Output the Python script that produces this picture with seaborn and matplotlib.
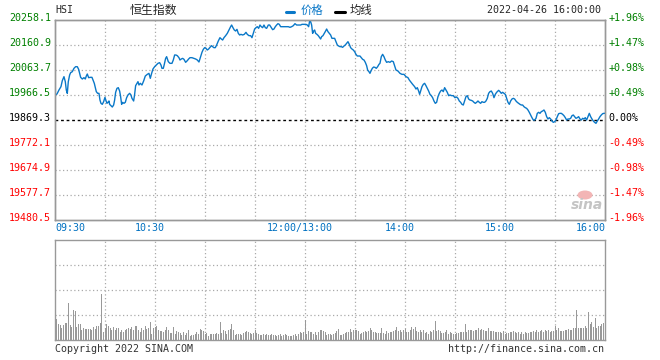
import matplotlib
matplotlib.use('Agg')
import matplotlib.pyplot as plt
import seaborn as sns
from matplotlib.transforms import ScaledTranslation, blended_transform_factory
from matplotlib.lines import Line2D
from matplotlib.patches import Ellipse

# trading minutes since 09:30 (lunch break removed) and HSI price
minutes = [
    0, 1.0, 2.2, 3.4, 4.2, 5.2, 6.0, 6.6, 7.2, 7.8,
    8.6, 9.2, 10.2, 11.2, 12.2, 13.2, 14.0, 14.6, 15.2, 16.2,
    17.2, 18.0, 18.6, 19.2, 20.0, 21.0, 22.0, 22.6, 23.4, 24.0,
    24.6, 25.4, 26.2, 26.8, 27.4, 28.2, 29.0, 29.8, 30.4, 31.0,
    31.6, 32.2, 32.6, 33.4, 34.2, 35.0, 35.6, 36.2, 37.0, 37.8,
    38.6, 39.2, 39.8, 40.4, 41.2, 42.0, 42.8, 43.6, 44.6, 45.4,
    46.0, 47.0, 47.6, 48.2, 49.0, 49.6, 50.2, 51.0, 52.0, 53.0,
    54.0, 55.2, 56.2, 57.0, 57.8, 58.6, 59.6, 60.6, 61.6, 62.6,
    63.4, 64.0,
    64.8, 65.4, 66.2, 66.8, 67.8, 68.8, 70.0, 70.8, 71.6, 72.4,
    73.2, 74.2, 74.8, 75.6, 76.4, 77.2, 78.2, 79.2, 80.0, 80.8,
    82.0, 83.2, 84.2, 85.2, 86.2, 87.2, 88.0, 88.8, 89.6, 90.4,
    91.2, 92.0, 92.8, 93.8, 94.4, 95.2, 96.0, 96.8, 97.8, 98.8,
    99.6, 100.4, 101.2, 102.2, 103.2, 104.2, 105.2, 105.8, 106.6, 107.4,
    108.2, 109.0, 109.8, 110.6, 111.4, 112.4, 113.4, 114.4, 115.2, 116.2,
    117.2, 118.0, 118.8, 119.6, 120.4, 121.2, 122.0, 122.8, 123.6, 124.4,
    125.2, 126.0, 126.8, 127.8, 128.6,
    129.6, 130.4, 131.2, 132.0, 132.8, 133.6, 134.4, 135.2, 136.0, 137.2,
    138.4, 139.8, 140.8, 141.8, 142.8, 143.8, 144.8, 146.0, 147.2, 148.0,
    149.2, 150.4, 151.2, 152.0, 152.6, 153.2, 153.8, 154.4, 155.0, 155.6,
    156.2, 157.0, 157.8, 158.6, 159.2, 159.8, 160.6, 161.4, 162.2, 162.8,
    163.6, 164.4, 165.2, 166.0, 166.8, 167.6, 168.4, 169.2, 170.0, 170.8,
    171.6, 172.4, 173.2, 174.0, 174.8, 175.6, 176.4, 177.2, 178.0, 178.8,
    179.6, 180.4, 181.2, 182.0, 182.8, 183.6, 184.4, 185.2, 186.0, 186.8,
    187.4, 188.2, 188.8, 189.4, 190.2, 191.0, 191.8, 192.6, 193.4, 194.2,
    194.8,
    195.6, 196.4, 197.2, 198.0, 198.8, 199.8, 200.8, 201.8, 202.8, 203.6,
    204.4, 205.6, 206.8, 208.0, 209.2, 210.4, 211.6, 212.4, 213.6, 214.4,
    215.6, 216.4, 217.2, 218.0, 218.6, 219.2, 220.0, 220.8, 221.6, 222.4,
    223.2, 224.0, 224.8, 225.6, 226.4, 227.2, 228.0, 228.8, 229.6, 230.4,
    231.2, 232.0, 232.8, 233.6, 234.4, 235.2, 236.0, 236.8, 237.8, 238.8,
    239.8, 240.8, 241.6, 242.4, 243.2, 244.0, 244.8, 245.6, 246.4, 247.2,
    248.0, 248.8, 249.6, 250.4, 251.2, 252.0, 252.8, 253.6, 254.4, 255.2,
    256.0, 256.8, 257.6, 258.4, 259.2, 260.0, 260.8,
    261.6, 262.4, 263.2, 264.0, 264.8, 266.0, 266.8, 267.6, 268.4, 269.2,
    270.0, 270.8, 271.6, 272.4, 273.2, 274.0, 274.8, 275.6, 276.4, 277.2,
    278.0, 278.8, 279.6, 280.4, 281.2, 282.0, 282.8, 283.6, 284.4, 285.2,
    286.0, 286.8, 287.6, 288.4, 289.2, 290.0, 290.8, 291.6, 292.4, 293.2,
    294.0, 294.8, 295.6, 296.4, 297.2, 298.0, 298.8, 299.6, 300.4, 301.2,
    302.0, 302.8, 303.6, 304.4, 305.2, 306.0, 306.8, 307.6, 308.4, 309.2,
    310.0, 310.8, 311.6, 312.4, 313.2, 314.0, 314.8, 315.6, 316.4, 317.2,
    318.0, 318.8, 319.6, 320.4, 321.2, 322.0, 322.8, 323.6, 324.4, 325.2,
    326.0, 326.8, 327.6, 328.4, 329.2, 330.0,
]
price = [
    19966.5, 19970.4, 19985.9, 19998.9, 20022.2, 20037.8, 20018.3, 19985.9, 19973.0, 20018.3,
    20044.2, 20053.3, 20057.2, 20070.2, 20076.6, 20076.6, 20066.3, 20050.7, 20035.2, 20028.7,
    20033.9, 20028.7, 20040.3, 20048.1, 20033.9, 20035.2, 20035.2, 20024.8, 20011.9, 19995.0,
    19979.5, 19973.0, 19973.0, 19947.0, 19934.1, 19930.2, 19940.6, 19957.4, 19944.5, 19934.1,
    19938.0, 19943.2, 19930.2, 19925.0, 19919.8, 19927.6, 19947.0, 19976.9, 19992.4, 19995.0,
    19982.0, 19960.0, 19930.2, 19938.0, 19934.1, 19938.0, 19956.1, 19966.5, 19973.0, 19966.5,
    19953.5, 19943.2, 19969.1, 20002.8, 20011.9, 20018.3, 20005.4, 20011.9, 20005.4, 20021.0,
    20040.3, 20046.8, 20050.7, 20031.3, 20050.7, 20067.6, 20076.6, 20083.1, 20089.6, 20092.2,
    20083.1, 20070.2,
    20070.2, 20085.7, 20109.0, 20115.5, 20096.1, 20089.6, 20089.6, 20102.6, 20122.0, 20122.0,
    20119.4, 20111.6, 20102.6, 20106.5, 20109.0, 20105.2, 20093.5, 20100.0, 20106.5, 20111.6,
    20111.6, 20109.0, 20106.5, 20102.6, 20094.8, 20115.5, 20132.4, 20144.0, 20150.5, 20147.9,
    20141.4, 20145.3, 20151.8, 20158.3, 20154.4, 20150.5, 20150.5, 20160.9, 20176.4, 20189.4,
    20184.2, 20180.3, 20189.4, 20197.2, 20206.2, 20219.2, 20232.1, 20238.6, 20228.3, 20219.2,
    20215.3, 20221.8, 20206.2, 20199.8, 20202.3, 20199.8, 20202.3, 20210.1, 20202.3, 20197.2,
    20197.2, 20189.4, 20206.2, 20223.1, 20228.3, 20232.1, 20225.7, 20238.6, 20232.1, 20228.3,
    20238.6, 20228.3, 20225.7, 20238.6, 20238.6,
    20228.3, 20220.5, 20223.1, 20232.1, 20238.6, 20243.8, 20241.2, 20232.1, 20232.1, 20232.1,
    20232.1, 20232.1, 20229.6, 20232.1, 20236.0, 20243.8, 20238.6, 20238.6, 20238.6, 20241.2,
    20241.2, 20241.2, 20238.6, 20232.1, 20254.2, 20251.6, 20238.6, 20206.2, 20215.3, 20219.2,
    20206.2, 20202.3, 20197.2, 20189.4, 20184.2, 20193.3, 20197.2, 20206.2, 20215.3, 20223.1,
    20212.7, 20206.2, 20199.8, 20186.8, 20186.8, 20186.8, 20173.8, 20160.9, 20157.0, 20154.4,
    20154.4, 20151.8, 20157.0, 20160.9, 20167.4, 20173.8, 20163.5, 20150.5, 20145.3, 20141.4,
    20135.0, 20124.6, 20118.1, 20118.1, 20118.1, 20111.6, 20105.2, 20102.6, 20093.5, 20080.5,
    20063.7, 20057.2, 20050.7, 20059.8, 20070.2, 20075.3, 20074.0, 20070.2, 20076.6, 20085.7,
    20089.6,
    20115.5, 20124.6, 20115.5, 20102.6, 20093.5, 20096.1, 20093.5, 20098.7, 20096.1, 20080.5,
    20063.7, 20059.8, 20050.7, 20046.8, 20046.8, 20037.8, 20033.9, 20024.8, 20014.4, 20008.0,
    19998.9, 19989.8, 19995.0, 19982.0, 19969.1, 19982.0, 19998.9, 20008.0, 20011.9, 20002.8,
    19992.4, 19982.0, 19969.1, 19963.9, 19956.1, 19943.2, 19934.1, 19938.0, 19960.0, 19973.0,
    19982.0, 19985.9, 19979.5, 19995.0, 19985.9, 19976.9, 19963.9, 19966.5, 19963.9, 19963.9,
    19956.1, 19958.7, 19953.5, 19943.2, 19938.0, 19930.2, 19927.6, 19943.2, 19960.0, 19963.9,
    19950.9, 19947.0, 19945.7, 19943.2, 19938.0, 19934.1, 19938.0, 19943.2, 19938.0, 19934.1,
    19940.6, 19938.0, 19938.0, 19943.2, 19953.5, 19973.0, 19979.5,
    19982.0, 19973.0, 19956.1, 19969.1, 19976.9, 19984.6, 19979.5, 19973.0, 19976.9, 19973.0,
    19969.1, 19953.5, 19938.0, 19930.2, 19943.2, 19950.9, 19953.5, 19950.9, 19943.2, 19938.0,
    19934.1, 19930.2, 19927.6, 19927.6, 19921.1, 19917.2, 19914.6, 19908.2, 19899.1, 19888.7,
    19878.4, 19869.3, 19869.3, 19875.8, 19895.2, 19899.1, 19895.2, 19901.7, 19904.3, 19908.2,
    19899.1, 19882.3, 19873.2, 19878.4, 19873.2, 19865.4, 19860.2, 19862.8, 19869.3, 19882.3,
    19893.9, 19895.2, 19895.2, 19891.3, 19886.1, 19878.4, 19869.3, 19873.2, 19873.2, 19875.8,
    19886.1, 19888.7, 19882.3, 19875.8, 19878.4, 19882.3, 19873.2, 19869.3, 19875.8, 19873.2,
    19878.4, 19869.3, 19882.3, 19895.2, 19882.3, 19873.2, 19865.4, 19860.2, 19856.3, 19865.4,
    19873.2, 19882.3, 19888.7, 19893.9, 19895.2, 19895.2,
]

# per-minute volume (relative units, panel top = 100)
volume = [
    21, 16, 15, 12, 15, 17, 17, 37, 15, 13, 30, 29, 13, 16, 16, 10, 12, 11, 11, 11,
    11, 10, 13, 11, 14, 14, 17, 46, 8, 12, 16, 14, 12, 10, 13, 10, 12, 12, 8, 10,
    8, 10, 11, 12, 11, 13, 10, 14, 14, 10, 8, 12, 10, 14, 11, 12, 18, 6, 12, 13,
    14, 10, 9, 9, 8, 10, 13, 10, 7, 7, 13, 6, 9, 8, 7, 5, 8, 5, 7, 10,
    4, 5, 5, 6, 8, 6, 11, 10, 9, 6, 7, 4, 6, 6, 6, 6, 7, 6, 18, 7,
    10, 9, 6, 10, 11, 16, 10, 5, 6, 6, 6, 5, 7, 8, 9, 8, 7, 6, 7, 10,
    7, 6, 5, 5, 6, 5, 6, 5, 5, 6, 5, 5, 4, 5, 6, 4, 5, 6, 5, 4,
    4, 4, 5, 6, 4, 6, 8, 7, 8, 20, 6, 9, 8, 8, 6, 8, 5, 8, 10, 10,
    9, 8, 5, 6,
    6, 5, 6, 7, 9, 11, 5, 5, 6, 7, 8, 8, 11, 8, 10, 10, 10, 9, 6, 7,
    8, 9, 8, 9, 12, 10, 8, 8, 7, 7, 7, 12, 7, 6, 9, 7, 8, 8, 9, 10,
    13, 9, 10, 8, 10, 11, 8, 8, 10, 13, 11, 13, 9, 8, 10, 8, 10, 7, 8, 6,
    9, 8, 10, 19, 9, 10, 9, 7, 7, 8, 10, 6, 8, 7, 6, 6, 7, 7, 8, 8,
    8, 16, 8, 10, 10, 10, 9, 10, 10, 12, 10, 11, 10, 9, 9, 12, 9, 9, 9, 8,
    8, 8, 8, 7, 9, 6, 7, 7, 8, 8, 9, 8, 7, 8, 6, 8, 6, 8, 7, 7,
    8, 8, 9, 8, 10, 8, 9, 10, 8, 10, 9, 10, 8, 9, 9, 14, 10, 12, 9, 9,
    9, 10, 10, 11, 10, 10, 12, 12, 30, 12, 12, 12, 12, 14, 12, 28, 16, 18, 13, 22,
    12, 14, 14, 16, 17, 21,
]
vol_minutes = list(range(1, len(volume) + 1))

prev_close = 19869.3
price_levels = [19480.5, 19577.7, 19674.9, 19772.1, 19869.3, 19966.5, 20063.7, 20160.9, 20258.1]
pct_labels = ['-1.96%', '-1.47%', '-0.98%', '-0.49%', '0.00%', '+0.49%', '+0.98%', '+1.47%', '+1.96%']
time_ticks = [0, 60, 150, 210, 270, 330]
time_labels = ['09:30', '10:30', '12:00/13:00', '14:00', '15:00', '16:00']

sns.set_style('white')
plt.rcParams['font.family'] = ['DejaVu Sans Mono', 'Noto Sans CJK SC']

W, H = 660, 360
fig = plt.figure(figsize=(6.6, 3.6), dpi=100)
fig.patch.set_facecolor('white')


def px(x, y):
    return x / W, 1 - y / H


ax = fig.add_axes([55.3 / W, 140 / H, 550 / W, 200 / H])
axv = fig.add_axes([55.3 / W, 19.7 / H, 550 / W, 100 / H])

grid_kw = dict(color='#aaaaaa', lw=0.9, ls=(0, (1, 2)), zorder=1)
border = '#999999'
blue = '#0a78c8'

# price panel
for lv in price_levels[1:-1]:
    if lv != prev_close:
        ax.axhline(lv, **grid_kw)
for m in range(30, 330, 30):
    ax.axvline(m, **grid_kw)
ax.axhline(prev_close, color='black', lw=1, ls=(0, (2, 2)), zorder=2)

sns.lineplot(x=minutes, y=price, ax=ax, color=blue, linewidth=1,
             estimator=None, sort=False, zorder=3)
ax.set_xlim(0, 330)
ax.set_ylim(price_levels[0], price_levels[-1])
ax.set_xticks([])
ax.set_xlabel('')
ax.set_ylabel('')
ax.set_yticks(price_levels)
ax.set_yticklabels([f'{v:.1f}' for v in price_levels])
ax.tick_params(axis='y', length=0, pad=3, labelsize=7.2)
lift = ScaledTranslation(0, 3 / 100, fig.dpi_scale_trans)
for lab, lv in zip(ax.get_yticklabels(), price_levels):
    lab.set_color('black' if lv == prev_close else ('#008000' if lv > prev_close else '#ff0000'))
    lab.set_transform(lab.get_transform() + lift)

axr = ax.twinx()
axr.set_ylim(price_levels[0], price_levels[-1])
axr.set_yticks(price_levels)
axr.set_yticklabels(pct_labels)
axr.tick_params(axis='y', length=0, pad=2, labelsize=7.2)
for lab, lv in zip(axr.get_yticklabels(), price_levels):
    lab.set_color('black' if lv == prev_close else ('#008000' if lv > prev_close else '#ff0000'))
    lab.set_transform(lab.get_transform() + lift)

for a in (ax, axr):
    for s in a.spines.values():
        s.set_color(border)
        s.set_linewidth(1)

# time labels under price panel
tr = blended_transform_factory(ax.transData, ax.transAxes)
for t, lab in zip(time_ticks, time_labels):
    if t == 0:
        ha, xx = 'left', t
    elif t == 330:
        ha, xx = 'right', t
    else:
        ha, xx = 'center', t - 3.3
    ax.text(xx, -0.0385, lab, transform=tr, ha=ha, va='center',
            fontsize=7.2, color='#0070c0')

# sina watermark
fig.patches.append(Ellipse(px(585, 195), 15 / W, 9 / H, transform=fig.transFigure,
                           facecolor='#f3b5b5', edgecolor='none', zorder=5))
fig.text(*px(587, 205), 'sina', ha='center', va='center', fontsize=10,
         fontstyle='italic', fontweight='bold', color='#c4c4c4',
         family='DejaVu Sans', zorder=6)

# volume panel
for lv in (25, 50, 75):
    axv.axhline(lv, **grid_kw)
for m in range(30, 330, 30):
    axv.axvline(m, **grid_kw)
sns.barplot(x=vol_minutes, y=volume, ax=axv, native_scale=True, color='#999999',
            saturation=1, width=0.6, errorbar=None, linewidth=0, zorder=3)
for bar in axv.patches:
    bar.set_antialiased(False)
axv.set_xlim(0, 330)
axv.set_ylim(0, 100)
axv.set_xticks([])
axv.set_yticks([])
axv.set_xlabel('')
axv.set_ylabel('')
for s in axv.spines.values():
    s.set_color(border)
    s.set_linewidth(1)

# header
fig.text(*px(55, 10), 'HSI', ha='left', va='center', fontsize=7.2)
fig.text(*px(130, 10), '恒生指数', ha='left', va='center', fontsize=8.6,
         family=['Noto Sans CJK SC'])
fig.lines.append(Line2D([285.5 / W, 293.5 / W], [1 - 12 / H, 1 - 12 / H],
                        transform=fig.transFigure, color=blue, lw=2.2))
fig.text(*px(301, 10), '价格', ha='left', va='center', fontsize=8.2,
         color=blue, family=['Noto Sans CJK SC'])
fig.lines.append(Line2D([335 / W, 345 / W], [1 - 12 / H, 1 - 12 / H],
                        transform=fig.transFigure, color='black', lw=2.2))
fig.text(*px(350, 10), '均线', ha='left', va='center', fontsize=8.2,
         family=['Noto Sans CJK SC'])
fig.text(*px(601, 10), '2022-04-26 16:00:00', ha='right', va='center', fontsize=7.2)

# footer
fig.text(*px(55, 349), 'Copyright 2022 SINA.COM', ha='left', va='center',
         fontsize=7.2, color='#333333')
fig.text(*px(604, 349), 'http://finance.sina.com.cn', ha='right', va='center',
         fontsize=7.2, color='#333333')

fig.savefig('out.png', dpi=100, facecolor='white')
